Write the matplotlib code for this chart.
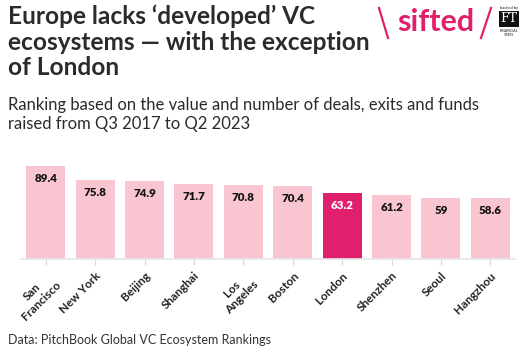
import matplotlib.pyplot as plt
import matplotlib.lines as mlines

cities = ['San\nFrancisco', 'New York', 'Beijing', 'Shanghai', 'Los\nAngeles',
          'Boston', 'London', 'Shenzhen', 'Seoul', 'Hangzhou']
scores = [89.4, 75.8, 74.9, 71.7, 70.8, 70.4, 63.2, 61.2, 59, 58.6]
highlight = 'London'

plt.rcParams['font.family'] = ['Lato', 'DejaVu Sans']

fig = plt.figure(figsize=(5.29, 3.55), dpi=100)
ax = fig.add_axes([21/529, 1-259/355, 494/529, 104/355])

pink = '#f8c5d1'
hot = '#e0206c'
cols = [hot if c == highlight else pink for c in cities]
x = range(len(cities))
ax.bar(x, scores, width=0.79, color=cols, zorder=2)

for i, v in enumerate(scores):
    txt = f'{v:g}'
    ax.annotate(txt, (i, v), xytext=(0, -9), textcoords='offset points',
                ha='center', va='center', fontsize=8.3, fontweight='heavy',
                color='white' if cities[i] == highlight else '#111111')

ax.set_xlim(-0.5, len(cities) - 0.5)
ax.set_ylim(0, 100)
for s in ['top', 'right', 'left']:
    ax.spines[s].set_visible(False)
ax.spines['bottom'].set_color('#e6e6e6')
ax.spines['bottom'].set_linewidth(1.2)
ax.set_yticks([])
ax.set_xticks(list(x))
ax.set_xticklabels(cities, rotation=45, ha='right', va='top', rotation_mode='anchor',
                   fontsize=8.5, fontweight='bold', color='#222222', multialignment='center')
ax.tick_params(axis='x', length=4, color='#d8d8d8', pad=4)

# title block
fig.text(8/529, 1-5/355, 'Europe lacks ‘developed’ VC\necosystems — with the exception\nof London',
         ha='left', va='top', fontsize=17.6, fontweight='bold', color='#2b2b2b', linespacing=1.13)
fig.text(8/529, 1-97/355, 'Ranking based on the value and number of deals, exits and funds\nraised from Q3 2017 to Q2 2023',
         ha='left', va='top', fontsize=12, color='#2b2b2b', linespacing=1.25)
fig.text(8/529, 1-340/355, 'Data: PitchBook Global VC Ecosystem Rankings',
         ha='left', va='center', fontsize=9, color='#333333')

# logo
fig.add_artist(mlines.Line2D([379/529, 388/529], [1-8/355, 1-38/355], color=hot, lw=1.6))
fig.text(436/529, 1-22/355, 'sifted', ha='center', va='center', fontsize=22,
         fontweight='bold', color=hot)
fig.add_artist(mlines.Line2D([481/529, 491/529], [1-38/355, 1-8/355], color=hot, lw=1.6))
fig.text(509/529, 1-6/355, 'backed by', ha='center', va='top', fontsize=3, color='#222222')
fig.text(509/529, 1-19/355, 'FT', ha='center', va='center', fontsize=9, color='white',
         family='DejaVu Serif',
         bbox=dict(boxstyle='square,pad=0.15', fc='#111111', ec='none'))
fig.text(509/529, 1-33/355, 'FINANCIAL\nTIMES', ha='center', va='center', fontsize=2.5,
         color='#222222', linespacing=0.9)

fig.savefig('out.png', dpi=100)
